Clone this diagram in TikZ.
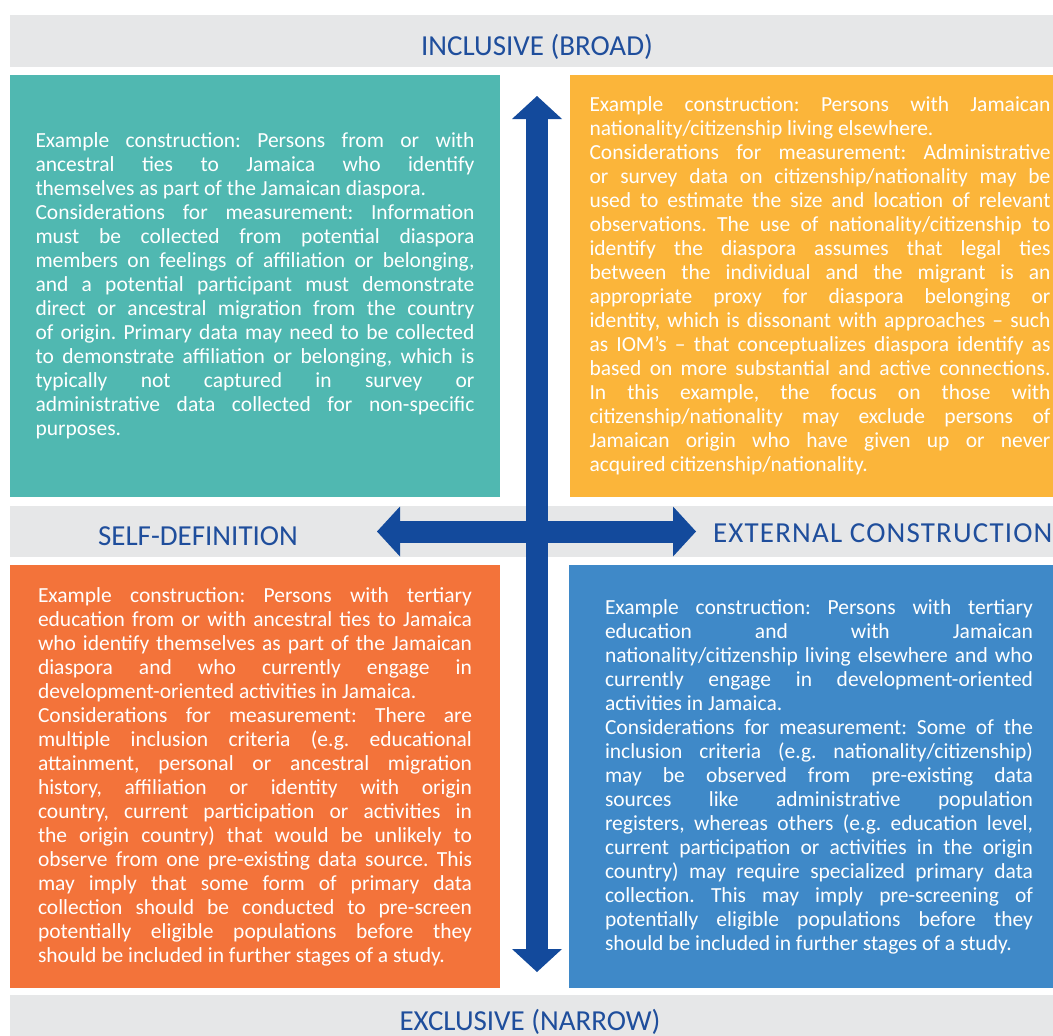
\documentclass[tikz,border=0pt]{standalone}
\usepackage{fontspec}
\setmainfont{Carlito}
\usetikzlibrary{arrows.meta}
\definecolor{bandgray}{HTML}{E6E7E8}
\definecolor{quadteal}{HTML}{50B8B1}
\definecolor{quadyellow}{HTML}{FBB53A}
\definecolor{quadorange}{HTML}{F3733A}
\definecolor{quadblue}{HTML}{3F89C8}
\definecolor{axisblue}{HTML}{134A9C}
\definecolor{labelblue}{HTML}{1F4E9C}
\setlength{\parindent}{0pt}
\hyphenpenalty=10000
\exhyphenpenalty=10000
\tolerance=10000
\frenchspacing
\tikzstyle{quad} = [rectangle, inner sep=0pt, minimum height=422pt, text=white, align=justify,
font=\fontsize{21.5}{24}\selectfont]
\tikzstyle{tealbox} = [quad, minimum width=490pt, text width=439pt, fill=quadteal]
\tikzstyle{yellowbox} = [quad, minimum width=500pt, text width=461pt, fill=quadyellow]
\tikzstyle{orangebox} = [quad, minimum width=490pt, text width=434pt, fill=quadorange]
\tikzstyle{bluebox} = [quad, minimum width=500pt, text width=428pt, fill=quadblue]
\tikzstyle{band} = [fill=bandgray]
\tikzstyle{axislabel} = [inner sep=0pt, text=labelblue, font=\fontsize{29}{34}\selectfont]
\tikzstyle{axisarrow} = [line width=22pt, draw=axisblue,
{Triangle[width=50pt,length=23pt,line width=0pt]}-{Triangle[width=50pt,length=23pt,line width=0pt]}]

\begin{document}
\begin{tikzpicture}[x=1pt, y=-1pt]
\useasboundingbox (0,0) rectangle (1053,1036);
\fill[band] (10,15) rectangle (1063,67);
\fill[band] (10,506) rectangle (1063,557);
\fill[band] (10,995) rectangle (1063,1046);

\node (broad) [axislabel, anchor=base] at (537,55) {INCLUSIVE (BROAD)};
\node (narrow) [axislabel, anchor=base] at (530,1030) {EXCLUSIVE (NARROW)};
\node (self) [axislabel, anchor=base] at (198,545) {SELF-DEFINITION};
\node (external) [axislabel, anchor=base west] at (713,542)
  {\addfontfeature{LetterSpace=4}EXTERNAL CONSTRUCTION};

\node (selfbroad) [tealbox] at (255,286) {Example construction: Persons from or with\linebreak
ancestral ties to Jamaica who identify\linebreak
themselves as part of the Jamaican diaspora.\par
Considerations for measurement: Information\linebreak
must be collected from potential diaspora\linebreak
members on feelings of affiliation or belonging,\linebreak
and a potential participant must demonstrate\linebreak
direct or ancestral migration from the country\linebreak
of origin. Primary data may need to be collected\linebreak
to demonstrate affiliation or belonging, which is\linebreak
typically not captured in survey or\linebreak
administrative data collected for non-specific\linebreak
purposes.};
\node (extbroad) [yellowbox] at (820,286) {Example construction: Persons with Jamaican\linebreak
nationality/citizenship living elsewhere.\par
Considerations for measurement: Administrative\linebreak
or survey data on citizenship/nationality may be\linebreak
used to estimate the size and location of relevant\linebreak
observations. The use of nationality/citizenship to\linebreak
identify the diaspora assumes that legal ties\linebreak
between the individual and the migrant is an\linebreak
appropriate proxy for diaspora belonging or\linebreak
identity, which is dissonant with approaches – such\linebreak
as IOM’s – that conceptualizes diaspora identify as\linebreak
based on more substantial and active connections.\linebreak
In this example, the focus on those with\linebreak
citizenship/nationality may exclude persons of\linebreak
Jamaican origin who have given up or never\linebreak
acquired citizenship/nationality.};
\node (selfnarrow) [orangebox, minimum height=423pt] at (255,776.5) {Example construction: Persons with tertiary\linebreak
education from or with ancestral ties to Jamaica\linebreak
who identify themselves as part of the Jamaican\linebreak
diaspora and who currently engage in\linebreak
development-oriented activities in Jamaica.\par
Considerations for measurement: There are\linebreak
multiple inclusion criteria (e.g. educational\linebreak
attainment, personal or ancestral migration\linebreak
history, affiliation or identity with origin\linebreak
country, current participation or activities in\linebreak
the origin country) that would be unlikely to\linebreak
observe from one pre-existing data source. This\linebreak
may imply that some form of primary data\linebreak
collection should be conducted to pre-screen\linebreak
potentially eligible populations before they\linebreak
should be included in further stages of a study.};
\node (extnarrow) [bluebox, minimum height=423pt] at (819,776.5) {Example construction: Persons with tertiary\linebreak
education and with Jamaican\linebreak
nationality/citizenship living elsewhere and who\linebreak
currently engage in development-oriented\linebreak
activities in Jamaica.\par
Considerations for measurement: Some of the\linebreak
inclusion criteria (e.g. nationality/citizenship)\linebreak
may be observed from pre-existing data\linebreak
sources like administrative population\linebreak
registers, whereas others (e.g. education level,\linebreak
current participation or activities in the origin\linebreak
country) may require specialized primary data\linebreak
collection. This may imply pre-screening of\linebreak
potentially eligible populations before they\linebreak
should be included in further stages of a study.};

\coordinate (uptip) at (537,96);
\coordinate (downtip) at (537,972);
\coordinate (lefttip) at (377,531.5);
\coordinate (righttip) at (696,531.5);
\draw[axisarrow] (lefttip) -- (righttip);
\draw[axisarrow] (uptip) -- (downtip);
\end{tikzpicture}
\end{document}
